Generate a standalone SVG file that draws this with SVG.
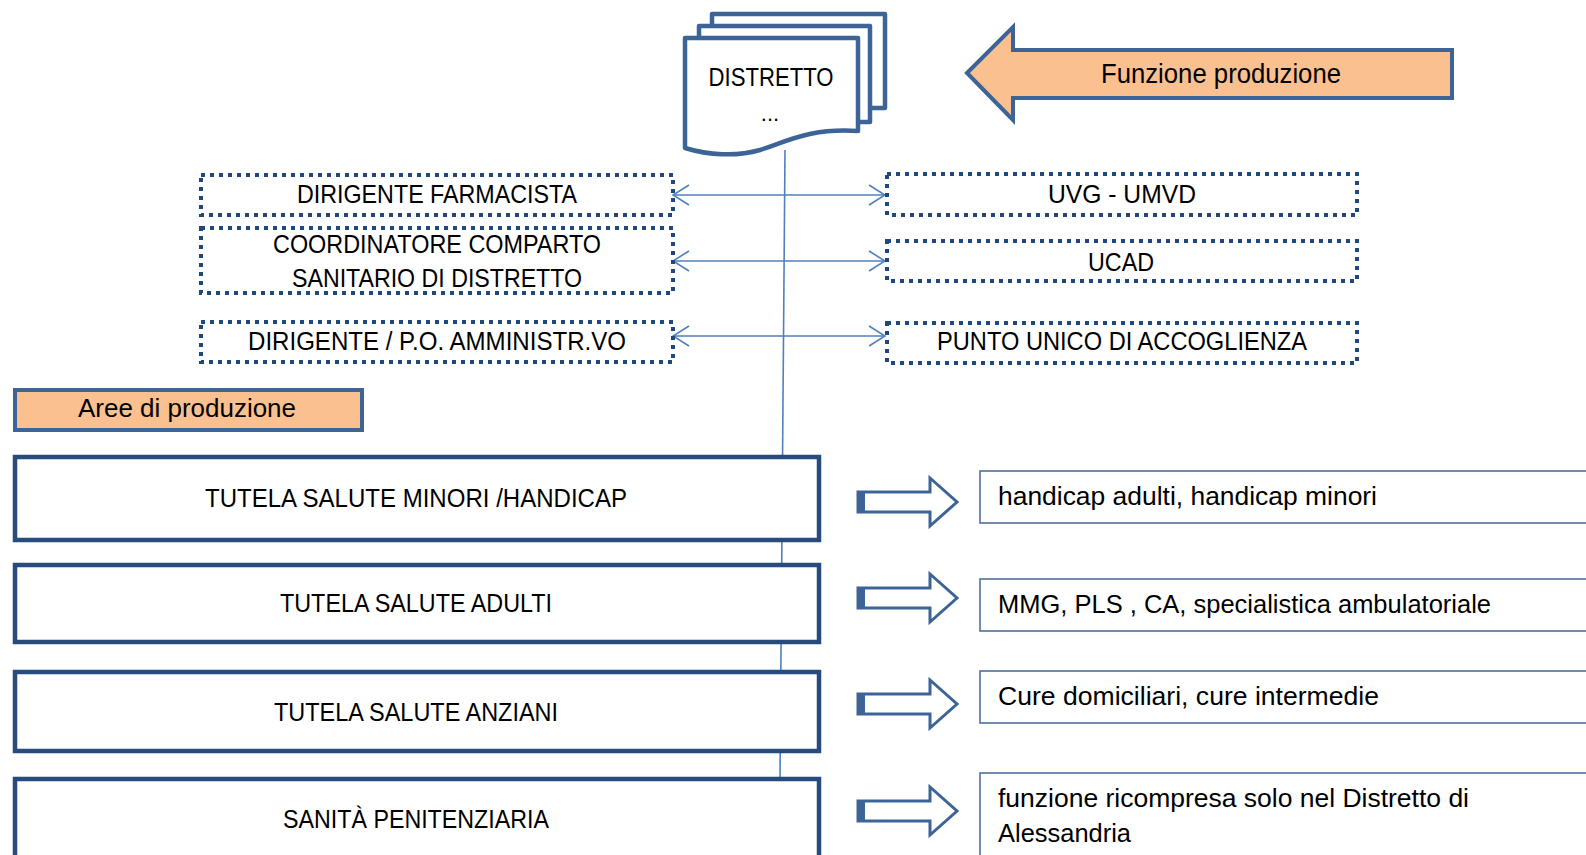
<svg xmlns="http://www.w3.org/2000/svg" width="1586" height="855" viewBox="0 0 1586 855">
  <style>
    text { font-family: "Liberation Sans", Arial, sans-serif; fill: #000; }
    .c { text-anchor: middle; }
    .dot { fill: none; stroke: #1F497D; stroke-width: 4; stroke-dasharray: 4 5; }
    .sheet { fill: #fff; stroke: #3C6496; stroke-width: 4.5; stroke-linejoin: round; }
    .orange { fill: #FAC090; stroke: #3C6496; stroke-width: 4; stroke-linejoin: miter; }
    .area { fill: #fff; stroke: #274B7D; stroke-width: 4.5; }
    .detail { fill: #fff; stroke: #4F6FA0; stroke-width: 1.6; }
    .blk { fill: #fff; stroke: #3C6496; stroke-width: 3; stroke-linejoin: miter; }
    .link { stroke: #4F81BD; stroke-width: 1.6; fill: none; }
  </style>
  <defs>
    <marker id="open" viewBox="0 0 18 22" refX="17" refY="11" markerWidth="18" markerHeight="22" markerUnits="userSpaceOnUse" orient="auto-start-reverse">
      <path d="M1,1 L17,11 L1,21" fill="none" stroke="#4F81BD" stroke-width="1.6"/>
    </marker>
    <g id="blockArrow">
      <path class="blk" d="M0,-10 H72 V-24 L99,0 L72,24 V10 H0 Z"/>
      <rect x="-1" y="-11" width="8" height="22" fill="#3C6496"/>
    </g>
  </defs>

  <!-- connectors -->
  <g id="connectors">
    <line class="link" x1="785" y1="150" x2="780" y2="778"/>
    <line class="link" x1="673" y1="195" x2="885" y2="195" marker-start="url(#open)" marker-end="url(#open)"/>
    <line class="link" x1="673" y1="261" x2="885" y2="261" marker-start="url(#open)" marker-end="url(#open)"/>
    <line class="link" x1="673" y1="336" x2="885" y2="336" marker-start="url(#open)" marker-end="url(#open)"/>
  </g>

  <!-- district document stack -->
  <g id="distretto">
    <rect class="sheet" x="712" y="14" width="173" height="94"/>
    <rect class="sheet" x="699" y="26" width="171" height="96"/>
    <path class="sheet" d="M685,38 H858 V131 C 812,128 790,140 760,150 C 736,157 708,155 685,148 Z"/>
    <text class="c" x="771" y="86" font-size="25" textLength="125" lengthAdjust="spacingAndGlyphs">DISTRETTO</text>
    <text class="c" x="770" y="121" font-size="22">...</text>
  </g>

  <!-- production function arrow -->
  <g id="funzione-produzione">
    <path class="orange" d="M967,73 L1013,27 V50 H1452 V98 H1013 V120 Z"/>
    <text class="c" x="1221" y="83" font-size="27" textLength="240" lengthAdjust="spacingAndGlyphs">Funzione produzione</text>
  </g>

  <!-- staff functions, left -->
  <g id="dirigente-farmacista">
    <rect class="dot" x="201" y="175" width="472" height="40"/>
    <text class="c" x="437" y="203" font-size="25" textLength="280" lengthAdjust="spacingAndGlyphs">DIRIGENTE FARMACISTA</text>
  </g>
  <g id="coordinatore-comparto">
    <rect class="dot" x="201" y="228" width="472" height="65"/>
    <text class="c" x="437" y="253" font-size="25" textLength="328" lengthAdjust="spacingAndGlyphs">COORDINATORE COMPARTO</text>
    <text class="c" x="437" y="287" font-size="25" textLength="290" lengthAdjust="spacingAndGlyphs">SANITARIO DI DISTRETTO</text>
  </g>
  <g id="dirigente-amministrativo">
    <rect class="dot" x="201" y="322" width="472" height="40"/>
    <text class="c" x="437" y="350" font-size="25" textLength="378" lengthAdjust="spacingAndGlyphs">DIRIGENTE / P.O. AMMINISTR.VO</text>
  </g>

  <!-- staff functions, right -->
  <g id="uvg-umvd">
    <rect class="dot" x="887" y="174" width="470" height="41"/>
    <text class="c" x="1122" y="203" font-size="25" textLength="148" lengthAdjust="spacingAndGlyphs">UVG - UMVD</text>
  </g>
  <g id="ucad">
    <rect class="dot" x="887" y="241" width="470" height="40"/>
    <text class="c" x="1121" y="271" font-size="25" textLength="66" lengthAdjust="spacingAndGlyphs">UCAD</text>
  </g>
  <g id="punto-unico">
    <rect class="dot" x="887" y="323" width="470" height="40"/>
    <text class="c" x="1122" y="350" font-size="25" textLength="370" lengthAdjust="spacingAndGlyphs">PUNTO UNICO DI ACCOGLIENZA</text>
  </g>

  <!-- production areas header -->
  <g id="aree-produzione">
    <rect class="orange" x="15" y="390" width="347" height="40"/>
    <text class="c" x="187" y="417" font-size="25" textLength="218" lengthAdjust="spacingAndGlyphs">Aree di produzione</text>
  </g>

  <!-- production areas -->
  <g id="area-minori">
    <rect class="area" x="15" y="457" width="804" height="83"/>
    <text class="c" x="416" y="507" font-size="25" textLength="422" lengthAdjust="spacingAndGlyphs">TUTELA SALUTE MINORI /HANDICAP</text>
  </g>
  <g id="area-adulti">
    <rect class="area" x="15" y="565" width="804" height="77"/>
    <text class="c" x="416" y="612" font-size="25" textLength="272" lengthAdjust="spacingAndGlyphs">TUTELA SALUTE ADULTI</text>
  </g>
  <g id="area-anziani">
    <rect class="area" x="15" y="672" width="804" height="79"/>
    <text class="c" x="416" y="721" font-size="25" textLength="284" lengthAdjust="spacingAndGlyphs">TUTELA SALUTE ANZIANI</text>
  </g>
  <g id="area-penitenziaria">
    <rect class="area" x="15" y="779" width="804" height="90"/>
    <text class="c" x="416" y="828" font-size="25" textLength="266" lengthAdjust="spacingAndGlyphs">SANITÀ PENITENZIARIA</text>
  </g>

  <!-- block arrows -->
  <g id="block-arrows">
    <use href="#blockArrow" x="858" y="502"/>
    <use href="#blockArrow" x="858" y="598"/>
    <use href="#blockArrow" x="858" y="704"/>
    <use href="#blockArrow" x="858" y="811"/>
  </g>

  <!-- area details -->
  <g id="detail-minori">
    <rect class="detail" x="980" y="471" width="620" height="52"/>
    <text x="998" y="505" font-size="25" textLength="379" lengthAdjust="spacingAndGlyphs">handicap adulti, handicap minori</text>
  </g>
  <g id="detail-adulti">
    <rect class="detail" x="980" y="579" width="620" height="52"/>
    <text x="998" y="613" font-size="25" textLength="493" lengthAdjust="spacingAndGlyphs">MMG, PLS , CA, specialistica ambulatoriale</text>
  </g>
  <g id="detail-anziani">
    <rect class="detail" x="980" y="671" width="620" height="52"/>
    <text x="998" y="705" font-size="25" textLength="381" lengthAdjust="spacingAndGlyphs">Cure domiciliari, cure intermedie</text>
  </g>
  <g id="detail-penitenziaria">
    <rect class="detail" x="980" y="773" width="620" height="100"/>
    <text x="998" y="807" font-size="25" textLength="471" lengthAdjust="spacingAndGlyphs">funzione ricompresa solo nel Distretto di</text>
    <text x="998" y="842" font-size="25" textLength="133" lengthAdjust="spacingAndGlyphs">Alessandria</text>
  </g>
</svg>
